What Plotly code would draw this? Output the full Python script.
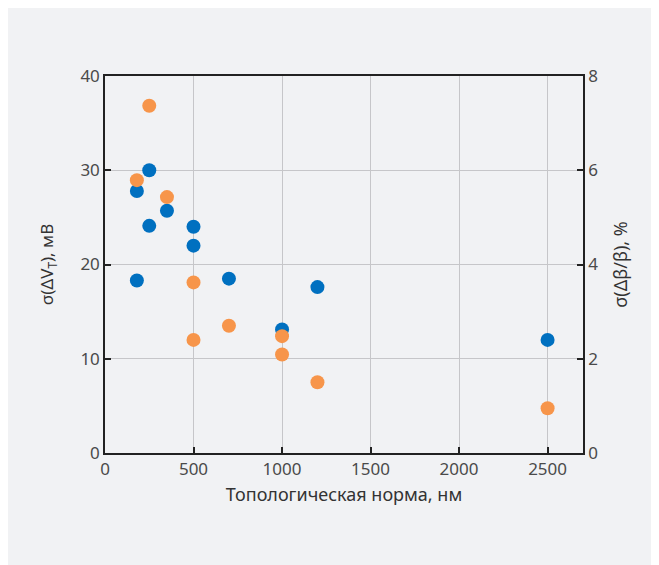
import plotly.graph_objects as go

# Data
blue_x = [180, 250, 180, 250, 350, 500, 500, 700, 1000, 1200, 2500]
blue_y = [27.8, 30.0, 18.3, 24.1, 25.7, 24.0, 22.0, 18.5, 13.1, 17.6, 12.0]   # σ(ΔV_T), мВ

orange_x = [250, 180, 350, 500, 500, 700, 1000, 1000, 1200, 2500]
orange_y = [7.37, 5.79, 5.43, 3.62, 2.40, 2.70, 2.48, 2.09, 1.50, 0.95]       # σ(Δβ/β), %

x_title = "Топологическая норма, нм"
y1_title = "σ(ΔV<sub>T</sub>), мВ"
y2_title = "σ(Δβ/β), %"

BLUE = "#0070c0"
ORANGE = "#f7954a"
BG = "#f1f2f4"
FONT = "Noto Sans"

fig = go.Figure()
fig.add_trace(go.Scatter(x=orange_x, y=orange_y, mode="markers", yaxis="y2",
                         marker=dict(color=ORANGE, size=14, line=dict(width=0)),
                         showlegend=False))
fig.add_trace(go.Scatter(x=blue_x, y=blue_y, mode="markers", yaxis="y",
                         marker=dict(color=BLUE, size=14, line=dict(width=0)),
                         showlegend=False))

axis_common = dict(showline=True, linecolor="#222", linewidth=1.5,
                   ticks="inside", ticklen=6, tickcolor="#222", tickwidth=1.5,
                   zeroline=False,
                   tickfont=dict(family=FONT, size=17, color="#4a4a4a"))

fig.update_layout(
    width=651, height=557,
    paper_bgcolor=BG, plot_bgcolor=BG,
    margin=dict(l=97, r=76, t=68, b=112),
    font=dict(family=FONT, color="#333"),
    xaxis=dict(range=[0, 2700], tickvals=[0, 500, 1000, 1500, 2000, 2500],
               mirror=True, gridcolor="#c6c6c9", gridwidth=1.2,
               title=dict(text=x_title, font=dict(family=FONT, size=18, color="#333"), standoff=9),
               **axis_common),
    yaxis=dict(range=[0, 40], tickvals=[0, 10, 20, 30, 40],
               gridcolor="#c6c6c9", gridwidth=1.2,
               title=dict(text=y1_title, font=dict(family=FONT, size=17, color="#333"), standoff=22),
               **axis_common),
    yaxis2=dict(range=[0, 8], tickvals=[0, 2, 4, 6, 8], overlaying="y", side="right",
                showgrid=False,
                title=dict(text=y2_title, font=dict(family=FONT, size=18, color="#333"), standoff=17),
                **axis_common),
)

fig.write_html("out.html")
